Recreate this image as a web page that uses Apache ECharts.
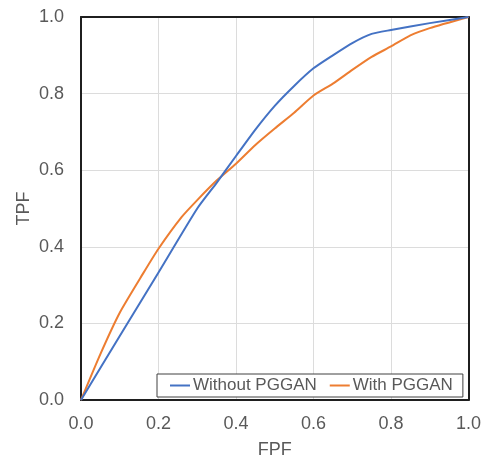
<!DOCTYPE html>
<html>
<head>
<meta charset="utf-8">
<script src="https://cdn.jsdelivr.net/npm/echarts@6/dist/echarts.min.js"></script>
<style>
html,body{margin:0;padding:0;background:#fff;}
#chart{width:484px;height:464px;}
</style>
</head>
<body>
<div id="chart"></div>
<script>
const seriesNames = ['Without PGGAN', 'With PGGAN'];
const withoutFPF = [0, 0.1, 0.2, 0.3, 0.35, 0.4, 0.45, 0.5, 0.55, 0.6, 0.65, 0.7, 0.75, 0.8, 0.9, 1.0];
const withoutTPF = [0, 0.167, 0.333, 0.50, 0.567, 0.637, 0.706, 0.768, 0.82, 0.866, 0.90, 0.932, 0.956, 0.966, 0.984, 1.0];
const withFPF = [0, 0.05, 0.1, 0.16, 0.2, 0.26, 0.3, 0.35, 0.4, 0.45, 0.5, 0.55, 0.6, 0.65, 0.7, 0.75, 0.8, 0.85, 0.9, 1.0];
const withTPF = [0, 0.12, 0.228, 0.33, 0.395, 0.478, 0.522, 0.573, 0.617, 0.666, 0.709, 0.75, 0.795, 0.826, 0.862, 0.896, 0.923, 0.952, 0.971, 1.0];
const axisTicks = [0, 0.2, 0.4, 0.6, 0.8, 1.0];

const pair = (xs, ys) => xs.map((x, i) => [x, ys[i]]);
const font = "'Liberation Sans', Arial, sans-serif";
const labelColor = '#595959';
const frame = {show: true, onZero: false, lineStyle: {color: '#1f1f1f', width: 2}};

const chart = echarts.init(document.getElementById('chart'), null, {renderer: 'canvas'});
chart.setOption({
  animation: false,
  backgroundColor: '#fff',
  grid: {left: 81, right: 15, top: 17, bottom: 59},
  legend: {
    left: 157, top: 374,
    data: seriesNames.map(n => ({name: n, icon: 'rect'})),
    itemWidth: 20, itemHeight: 2, itemGap: 13,
    padding: [3, 10, 3, 13],
    borderColor: '#404040', borderWidth: 1, backgroundColor: '#fff',
    textStyle: {fontFamily: font, fontSize: 17, color: labelColor, padding: [0, 0, 0, -2]}
  },
  xAxis: [{
    type: 'value', min: 0, max: 1, interval: 0.2, position: 'bottom',
    name: 'FPF', nameLocation: 'middle', nameGap: 41, nameMoveOverlap: false,
    nameTextStyle: {fontFamily: font, fontSize: 18, color: labelColor},
    axisLine: frame, axisTick: {show: false},
    axisLabel: {fontFamily: font, fontSize: 18, color: labelColor, margin: 15,
      formatter: v => axisTicks.includes(+v.toFixed(1)) ? v.toFixed(1) : ''},
    splitLine: {lineStyle: {color: '#dcdcdc', width: 1}}
  }, {
    type: 'value', min: 0, max: 1, interval: 0.2, position: 'top',
    axisLine: frame, axisTick: {show: false}, axisLabel: {show: false}, splitLine: {show: false}
  }],
  yAxis: [{
    type: 'value', min: 0, max: 1, interval: 0.2, position: 'left',
    name: 'TPF', nameLocation: 'middle', nameGap: 48, nameMoveOverlap: false,
    nameTextStyle: {fontFamily: font, fontSize: 18, color: labelColor},
    axisLine: frame, axisTick: {show: false},
    axisLabel: {fontFamily: font, fontSize: 18, color: labelColor, margin: 17,
      formatter: v => v.toFixed(1)},
    splitLine: {lineStyle: {color: '#dcdcdc', width: 1}}
  }, {
    type: 'value', min: 0, max: 1, interval: 0.2, position: 'right',
    axisLine: frame, axisTick: {show: false}, axisLabel: {show: false}, splitLine: {show: false}
  }],
  series: [
    {name: seriesNames[0], type: 'line', data: pair(withoutFPF, withoutTPF), showSymbol: false, smooth: 0.2,
     lineStyle: {color: '#4472C4', width: 2}, itemStyle: {color: '#4472C4'}, z: 3},
    {name: seriesNames[1], type: 'line', data: pair(withFPF, withTPF), showSymbol: false, smooth: 0.2,
     lineStyle: {color: '#ED7D31', width: 2}, itemStyle: {color: '#ED7D31'}, z: 2}
  ]
});
</script>
</body>
</html>
